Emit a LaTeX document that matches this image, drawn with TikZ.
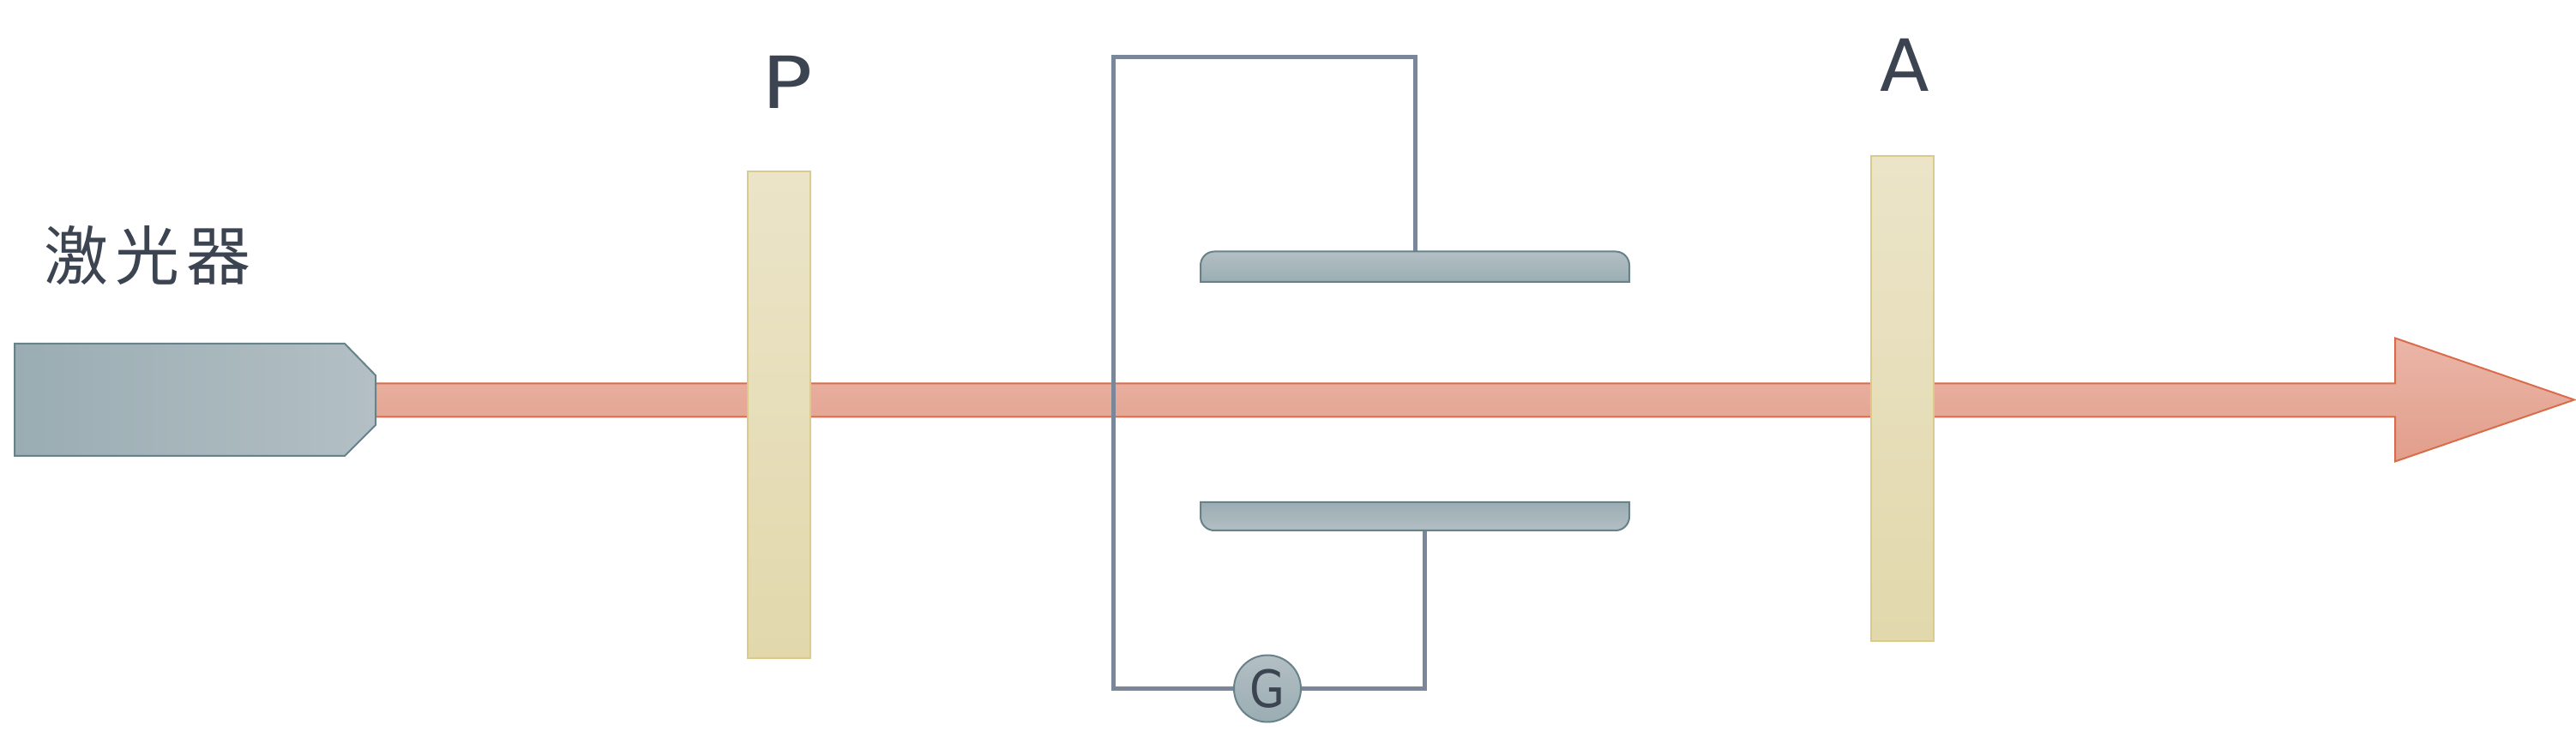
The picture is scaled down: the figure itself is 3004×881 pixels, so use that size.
\documentclass[tikz,border=0pt]{standalone}
\usepackage{fontspec}
\setmainfont{DejaVu Sans}
\newfontfamily\cjk{Noto Sans CJK SC}
\usetikzlibrary{calc}
\definecolor{slateA}{HTML}{9AADB3}
\definecolor{slateB}{HTML}{B3BFC4}
\definecolor{slateE}{HTML}{688289}
\definecolor{beamA}{HTML}{EAB6A8}
\definecolor{beamB}{HTML}{E29E8B}
\definecolor{beamE}{HTML}{D96C4A}
\definecolor{polA}{HTML}{EBE4C8}
\definecolor{polB}{HTML}{E2D8AC}
\definecolor{polE}{HTML}{D9CB8A}
\definecolor{wireC}{HTML}{7A8799}
\definecolor{inkC}{HTML}{3B4450}
\tikzset{
  x=0.5pt,y=-0.5pt,
  housing/.style={draw=slateE,line width=1pt,left color=slateA,right color=slateB},
  beamshape/.style={draw=beamE,line width=1pt,top color=beamA,bottom color=beamB},
  polarizer/.style={draw=polE,line width=1pt,top color=polA,bottom color=polB},
  plateup/.style={draw=slateE,line width=1pt,top color=slateB,bottom color=slateA},
  platedown/.style={draw=slateE,line width=1pt,top color=slateA,bottom color=slateB},
  wire/.style={draw=wireC,line width=2.5pt,line join=miter},
  label/.style={text=inkC,inner sep=0pt,font=\fontsize{42}{42}\selectfont},
  meter/.style={circle,draw=slateE,line width=1pt,top color=slateB,bottom color=slateA,minimum size=39pt,inner sep=0pt,text=inkC,font=\fontsize{30}{30}\selectfont}
}
\begin{document}
\begin{tikzpicture}
\useasboundingbox (0,0) rectangle (3004,881);
% beam
\draw[beamshape] (430,447.5) -- (2793,447.5) -- (2793,394.5) -- (3002,466.5) -- (2793,538.5) -- (2793,486.5) -- (430,486.5) -- cycle;
% wires
\coordinate (tl) at (1298,67);
\coordinate (tr) at (1650,67);
\coordinate (bl) at (1298,803.5);
\coordinate (br) at (1661,803.5);
\coordinate (upin) at (1650,293.5);
\coordinate (loin) at (1661,619);
\node[meter] (gal) at (1478,803.5) {\raisebox{-2pt}{\scalebox{.88}[1]{G}}};
\draw[wire] (upin) -- (tr) -- (tl) -- (bl) -- (gal.west);
\draw[wire] (gal.east) -- (br) -- (loin);
% laser
\draw[housing] (17,401) -- (402,401) -- (438,438) -- (438,496) -- (402,532) -- (17,532) -- cycle;
% polarizers
\draw[polarizer] (872,200.5) rectangle (945,768);
\draw[polarizer] (2182,182) rectangle (2255,748);
% plates
\draw[plateup] (1400,329) [rounded corners=8pt] -- (1400,293.5) -- (1900,293.5) [sharp corners] -- (1900,329) -- cycle;
\draw[platedown] (1400,586) -- (1900,586) [rounded corners=8pt] -- (1900,619) -- (1400,619) [sharp corners] -- cycle;
% texts
\node[label,anchor=base west] (lp) at (888,127) {\scalebox{1.17}[1]{P}};
\node[label,anchor=base west] (la) at (2192,107) {A};
\node[text=inkC,inner sep=0pt,font=\cjk\fontsize{37.5}{37.5}\selectfont] (ll) at (172,298) {激\hspace{4pt}光\hspace{4pt}器};
\end{tikzpicture}
\end{document}
